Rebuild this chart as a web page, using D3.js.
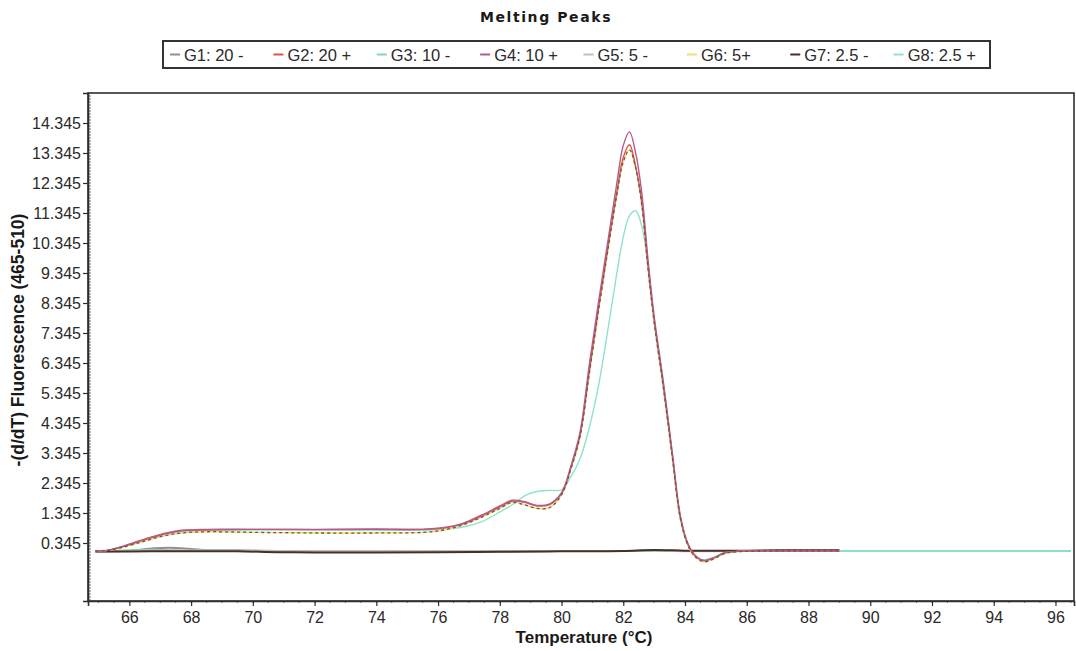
<!DOCTYPE html>
<html>
<head>
<meta charset="utf-8">
<script src="https://cdn.jsdelivr.net/npm/d3@7"></script>
<style>
  html, body { margin: 0; padding: 0; background: #ffffff; }
  svg { display: block; }
</style>
</head>
<body>
<svg id="chart" width="1076" height="651"></svg>
<script>
// Melting peak traces: -(d/dT) fluorescence versus temperature
const seriesNames = ["G1: 20 -", "G2: 20 +", "G3: 10 -", "G4: 10 +", "G5: 5 -", "G6: 5+", "G7: 2.5 -", "G8: 2.5 +"];
const seriesColors = ["#9a8a98", "#e0524a", "#82d8ae", "#b45a8c", "#c6bdb4", "#f0df72", "#4a2e2a", "#8fe2cf"];

const tempsPeak = [64.9, 65.3, 65.7, 66.2, 66.7, 67.2, 67.7, 68.5, 70, 72, 74, 75.5, 76.2, 76.8, 77.4, 78.0, 78.4, 78.8, 79.2, 79.6, 80.0, 80.3, 80.6, 80.9, 81.2, 81.5, 81.8, 82.0, 82.2, 82.4, 82.6, 82.8, 83.0, 83.3, 83.6, 83.85, 84.1, 84.35, 84.6, 84.9, 85.3, 85.8, 86.5, 87.5, 89.0];
const tempsPeakLong = [...tempsPeak, 90.5, 92.5, 94.5, 96.5];
const tempsFlat = [64.9, 66, 66.8, 67.5, 68.3, 69.5, 70.8, 72, 74, 76, 78, 80, 82, 83, 84, 85, 86, 87, 88, 89];
const tempsFlatLong = [...tempsFlat, 90.5, 92.5, 94.5, 96.5];

const g1 = [0.07, 0.09, 0.17, 0.18, 0.12, 0.10, 0.08, 0.07, 0.07, 0.07, 0.07, 0.08, 0.08, 0.09, 0.08, 0.08, 0.08, 0.08, 0.09, 0.09];
const g2 = [0.08, 0.10, 0.20, 0.36, 0.52, 0.66, 0.75, 0.78, 0.80, 0.79, 0.80, 0.80, 0.84, 0.98, 1.24, 1.55, 1.74, 1.70, 1.58, 1.62, 2.0, 2.85, 3.95, 6.1, 8.2, 10.2, 12.1, 13.2, 13.62, 12.9, 11.7, 9.6, 7.8, 5.6, 3.2, 1.2, 0.3, -0.1, -0.24, -0.16, 0.02, 0.07, 0.08, 0.08, 0.08];
const g3 = [0.08, 0.10, 0.12, 0.10, 0.10, 0.09, 0.08, 0.08, 0.08, 0.08, 0.08, 0.08, 0.08, 0.08, 0.08, 0.08, 0.08, 0.08, 0.08, 0.08, 0.08, 0.08, 0.08, 0.08];
const g4 = [0.07, 0.10, 0.21, 0.38, 0.54, 0.68, 0.77, 0.80, 0.80, 0.80, 0.81, 0.80, 0.86, 1.0, 1.27, 1.58, 1.77, 1.72, 1.6, 1.64, 2.02, 2.9, 4.05, 6.3, 8.4, 10.4, 12.4, 13.6, 14.05, 13.35, 12.0, 9.8, 7.9, 5.7, 3.25, 1.25, 0.3, -0.1, -0.24, -0.16, 0.02, 0.07, 0.08, 0.08, 0.08];
const g5 = [0.06, 0.08, 0.09, 0.09, 0.08, 0.08, 0.07, 0.06, 0.06, 0.07, 0.07, 0.08, 0.08, 0.10, 0.07, 0.07, 0.08, 0.09, 0.09, 0.09];
const g6 = [0.08, 0.10, 0.18, 0.32, 0.47, 0.60, 0.68, 0.72, 0.70, 0.68, 0.68, 0.70, 0.78, 0.95, 1.2, 1.5, 1.7, 1.62, 1.5, 1.52, 1.95, 2.8, 3.9, 6.0, 8.1, 10.1, 12.0, 13.05, 13.45, 12.85, 11.6, 9.5, 7.7, 5.5, 3.1, 1.15, 0.25, -0.14, -0.28, -0.2, 0.0, 0.06, 0.08, 0.08, 0.08];
const g7 = [0.06, 0.06, 0.07, 0.07, 0.07, 0.07, 0.04, 0.03, 0.03, 0.04, 0.05, 0.07, 0.08, 0.11, 0.09, 0.09, 0.09, 0.10, 0.10, 0.10];
const g8 = [0.08, 0.10, 0.20, 0.35, 0.50, 0.63, 0.72, 0.76, 0.78, 0.78, 0.77, 0.77, 0.80, 0.88, 1.05, 1.38, 1.62, 1.92, 2.06, 2.1, 2.12, 2.55, 3.15, 4.2, 5.6, 7.45, 9.4, 10.55, 11.25, 11.42, 10.9, 9.6, 7.7, 5.5, 3.1, 1.15, 0.28, -0.1, -0.22, -0.15, 0.02, 0.07, 0.08, 0.08, 0.08, 0.08, 0.08, 0.08, 0.08];

const xTicks = [66, 68, 70, 72, 74, 76, 78, 80, 82, 84, 86, 88, 90, 92, 94, 96];
const yTicks = [0.345, 1.345, 2.345, 3.345, 4.345, 5.345, 6.345, 7.345, 8.345, 9.345, 10.345, 11.345, 12.345, 13.345, 14.345];

const traces = [
  { temps: tempsFlat, values: g1 },
  { temps: tempsPeak, values: g2 },
  { temps: tempsFlatLong, values: g3 },
  { temps: tempsPeak, values: g4 },
  { temps: tempsFlat, values: g5 },
  { temps: tempsPeak, values: g6 },
  { temps: tempsFlat, values: g7 },
  { temps: tempsPeakLong, values: g8 }
].map((t, i) => ({ name: seriesNames[i], color: seriesColors[i], points: t.temps.map((x, j) => [x, t.values[j]]) }));

const svg = d3.select("#chart");
const plot = { left: 88, right: 1074, top: 93, bottom: 601 };

const x = d3.scaleLinear().domain([64.66, 96.6]).range([plot.left, plot.right]);
const y = d3.scaleLinear().domain([-1.588, 15.345]).range([plot.bottom, plot.top]);

// Title
svg.append("text")
  .attr("x", 546).attr("y", 22)
  .attr("text-anchor", "middle")
  .attr("font-family", "DejaVu Sans, sans-serif")
  .attr("font-weight", "bold")
  .attr("font-size", 14)
  .attr("letter-spacing", 1.6)
  .attr("fill", "#1a1a1a")
  .text("Melting Peaks");

// Legend box with uniform slots
const legend = { left: 163, top: 41, width: 827, height: 27 };
svg.append("rect")
  .attr("x", legend.left).attr("y", legend.top)
  .attr("width", legend.width).attr("height", legend.height)
  .attr("fill", "#ffffff").attr("stroke", "#333").attr("stroke-width", 2);
const slot = legend.width / seriesNames.length;
const legendItems = svg.append("g").selectAll("g").data(traces).join("g")
  .attr("transform", (d, i) => `translate(${legend.left + 7 + i * slot},${legend.top + legend.height / 2})`);
legendItems.append("line")
  .attr("x1", 0).attr("x2", 10).attr("y1", 0).attr("y2", 0)
  .attr("stroke", d => d.color).attr("stroke-width", 2);
legendItems.append("text")
  .attr("x", 14).attr("y", 6)
  .attr("font-family", "Liberation Sans, Arial, sans-serif")
  .attr("font-size", 16.5)
  .attr("fill", "#2a2a2a")
  .text(d => d.name);

// Plot frame
svg.append("rect")
  .attr("x", plot.left).attr("y", plot.top)
  .attr("width", plot.right - plot.left).attr("height", plot.bottom - plot.top)
  .attr("fill", "none").attr("stroke", "#2e2e2e").attr("stroke-width", 1.6);

// Minor ticks on the value axis, every 0.1 pointing inward
const yMinor = d3.range(0, 170).map(k => -1.555 + k * 0.1).filter(v => v < 15.3);
svg.append("g").selectAll("line").data(yMinor).join("line")
  .attr("x1", plot.left).attr("x2", plot.left + 3)
  .attr("y1", d => y(d)).attr("y2", d => y(d))
  .attr("stroke", "#555").attr("stroke-width", 0.8);

// Minor ticks on the temperature axis
const xMinor = d3.range(65, 96.6, 0.5);
svg.append("g").selectAll("line").data(xMinor).join("line")
  .attr("x1", d => x(d)).attr("x2", d => x(d))
  .attr("y1", plot.bottom).attr("y2", plot.bottom + 2)
  .attr("stroke", "#555").attr("stroke-width", 0.8);

// Axes
const yAxis = svg.append("g")
  .attr("transform", `translate(${plot.left},0)`)
  .call(d3.axisLeft(y).tickValues(yTicks).tickFormat(d3.format(".3f")).tickSize(5).tickPadding(2));
const xAxis = svg.append("g")
  .attr("transform", `translate(0,${plot.bottom})`)
  .call(d3.axisBottom(x).tickValues(xTicks).tickFormat(d3.format("d")).tickSize(5).tickPadding(6));
[yAxis, xAxis].forEach(a => {
  a.select(".domain").attr("stroke", "#2e2e2e").attr("stroke-width", 1.6);
  a.selectAll(".tick line").attr("stroke", "#2e2e2e").attr("stroke-width", 1.2);
  a.selectAll(".tick text")
    .attr("font-family", "Liberation Sans, Arial, sans-serif")
    .attr("font-size", 16)
    .attr("fill", "#2a2a2a");
});

// Axis titles
svg.append("text")
  .attr("x", 584).attr("y", 643)
  .attr("text-anchor", "middle")
  .attr("font-family", "Liberation Sans, Arial, sans-serif")
  .attr("font-weight", "bold")
  .attr("font-size", 17)
  .attr("fill", "#1a1a1a")
  .text("Temperature (°C)");
svg.append("text")
  .attr("transform", "translate(24,340) rotate(-90)")
  .attr("text-anchor", "middle")
  .attr("font-family", "Liberation Sans, Arial, sans-serif")
  .attr("font-weight", "bold")
  .attr("font-size", 17.5)
  .attr("fill", "#1a1a1a")
  .text("-(d/dT) Fluorescence (465-510)");

// Traces
const line = d3.line()
  .x(d => x(d[0])).y(d => y(d[1]))
  .curve(d3.curveCatmullRom.alpha(0.5));
const drawOrder = [0, 2, 4, 6, 7, 5, 1, 3];
const traceLayer = svg.append("g");
drawOrder.forEach(i => {
  traceLayer.append("path")
    .datum(traces[i].points)
    .attr("d", line)
    .attr("fill", "none")
    .attr("stroke", traces[i].color)
    .attr("stroke-width", i % 2 === 0 ? 2 : 1.4);
});
// dark dashed companion stroke along the G6 trace
traceLayer.append("path")
  .datum(traces[5].points)
  .attr("d", line)
  .attr("fill", "none")
  .attr("stroke", "#6a5a4a")
  .attr("stroke-width", 1.3)
  .attr("stroke-dasharray", "3,3");
</script>
</body>
</html>
